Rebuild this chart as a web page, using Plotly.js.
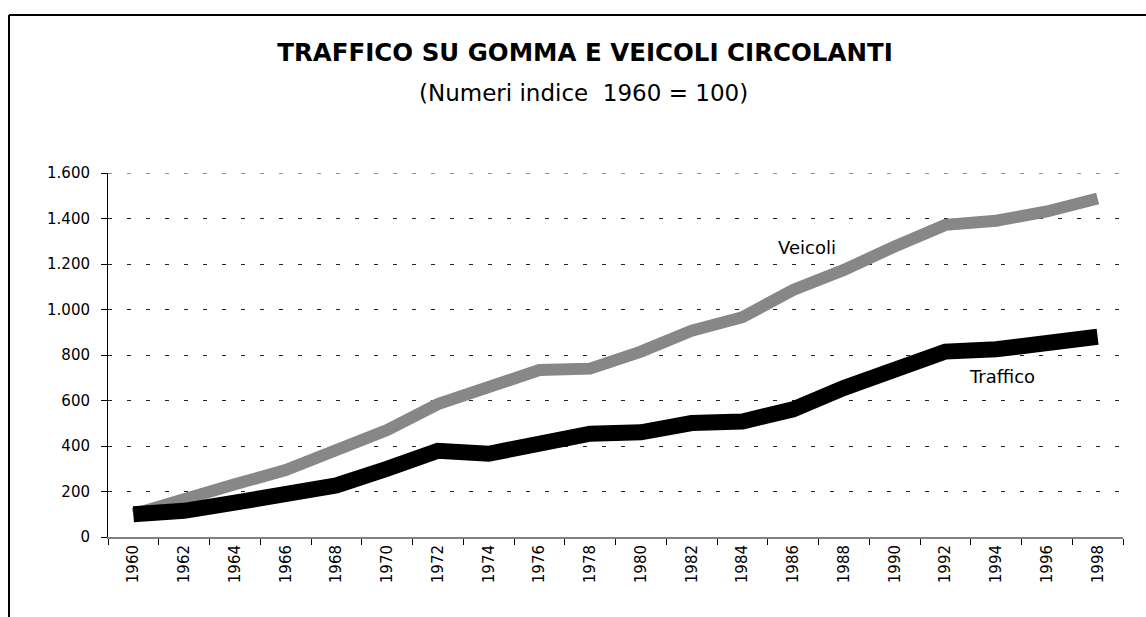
<!DOCTYPE html>
<html>
<head>
<meta charset="utf-8">
<script src="https://cdn.plot.ly/plotly-3.0.1.min.js"></script>
<style>
html,body{margin:0;padding:0;background:#fff;}
#chart{width:1146px;height:617px;}
</style>
</head>
<body>
<div id="chart"></div>
<script>
const years = ["1960","1962","1964","1966","1968","1970","1972","1974","1976","1978","1980","1982","1984","1986","1988","1990","1992","1994","1996","1998"];
const traffico = [100, 115, 151, 184, 227, 300, 379, 366, 404, 454, 460, 501, 508, 561, 655, 743, 815, 825, 852, 880];
const veicoli  = [100, 170, 232, 294, 378, 470, 584, 656, 734, 740, 815, 907, 966, 1086, 1174, 1277, 1372, 1390, 1431, 1488];
const yTicks = [0, 200, 400, 600, 800, 1000, 1200, 1400, 1600];
const yMax = 1600;
const titleText = "TRAFFICO SU GOMMA E VEICOLI CIRCOLANTI";
const subtitleText = "(Numeri indice  1960 = 100)";
const seriesNames = ["Veicoli", "Traffico"];

const F = "DejaVu Sans, Verdana, sans-serif";

const data = [
  {x: years, y: veicoli, name: seriesNames[0], type: "scatter", mode: "lines",
   line: {color: "#878787", width: 12}, cliponaxis: false},
  {x: years, y: traffico, name: seriesNames[1], type: "scatter", mode: "lines",
   line: {color: "#000000", width: 16}, cliponaxis: false}
];

const PX = (px) => (px - 108) / 1015;
const PY = (py) => (537 - py) / 364;

const layout = {
  width: 1146, height: 617,
  paper_bgcolor: "#fff", plot_bgcolor: "#fff",
  separators: ",.",
  showlegend: false,
  margin: {l: 108, r: 23, t: 173, b: 80, pad: 0},
  font: {family: F, color: "#000"},
  title: {
    text: "<b>" + titleText + "</b>",
    font: {family: F, size: 24.5, color: "#000"},
    x: PX(585), xanchor: "center", xref: "paper",
    y: 1 - 52/617, yanchor: "middle", yref: "container"
  },
  xaxis: {
    type: "category",
    range: [-0.5, 19.5],
    tickson: "boundaries",
    ticks: "outside", ticklen: 6, tickcolor: "#000", tickwidth: 1,
    showline: true, linecolor: "#808080", linewidth: 2,
    showgrid: false, zeroline: false,
    tickangle: -90,
    tickfont: {family: F, size: 15, color: "#000"}
  },
  yaxis: {
    range: [0, yMax],
    tickvals: yTicks,
    tickformat: ",d",
    ticks: "outside", ticklen: 6, tickcolor: "#000", tickwidth: 1,
    ticklabelstandoff: 8,
    showline: true, linecolor: "#000", linewidth: 1,
    showgrid: true, gridcolor: "#222", gridwidth: 1, griddash: "4px,15px",
    zeroline: false,
    tickfont: {family: F, size: 15, color: "#000"}
  },
  annotations: [
    {text: subtitleText, xref: "paper", yref: "paper", x: PX(583), y: PY(93),
     showarrow: false, xanchor: "center", yanchor: "middle", font: {family: F, size: 23, color: "#000"}},
    {text: seriesNames[0], xref: "paper", yref: "paper", x: PX(807), y: PY(247),
     showarrow: false, xanchor: "center", yanchor: "middle", font: {family: F, size: 18, color: "#000"}},
    {text: seriesNames[1], xref: "paper", yref: "paper", x: PX(1002), y: PY(376),
     showarrow: false, xanchor: "center", yanchor: "middle", font: {family: F, size: 18, color: "#000"}}
  ],
  shapes: [
    {type: "line", xref: "paper", yref: "y", x0: 0, x1: 1, y0: yMax, y1: yMax, layer: "below",
     line: {color: "#222", width: 1, dash: "4px,15px"}},
    {type: "line", xref: "paper", yref: "paper", x0: PX(9), x1: PX(1146), y0: PY(15), y1: PY(15),
     line: {color: "#000", width: 2}},
    {type: "line", xref: "paper", yref: "paper", x0: PX(9), x1: PX(9), y0: PY(15), y1: PY(620),
     line: {color: "#000", width: 2}}
  ]
};

Plotly.newPlot("chart", data, layout, {staticPlot: true, displayModeBar: false});
</script>
</body>
</html>
